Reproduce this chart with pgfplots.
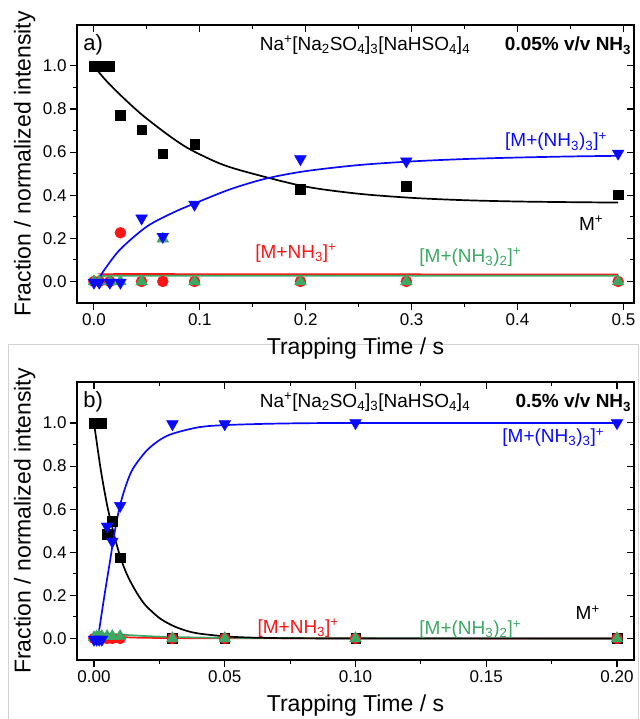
\documentclass[border=0pt]{standalone}
\usepackage{fontspec}
\setmainfont{Liberation Sans}
\usepackage{pgfplots}
\pgfplotsset{compat=1.18}

\definecolor{mgreen}{RGB}{60,168,100}
\definecolor{mred}{RGB}{250,20,20}
\definecolor{mblue}{RGB}{10,10,250}

\newcommand{\sub}[1]{\textsubscript{#1}}
\newcommand{\sups}[1]{\textsuperscript{#1}}

\tikzset{lab/.style={font=\fontsize{19}{19}\selectfont, inner sep=1pt}}

\pgfplotsset{
  panel/.style={
    scale only axis, width=557pt, height=278pt,
    axis line style={line width=1.3pt},
    every tick/.style={black, line width=1.1pt},
    major tick length=7pt, minor tick length=4pt,
    tick align=outside, xtick pos=bottom, ytick pos=left,
    ymin=-0.1, ymax=1.19, ytick={0,0.2,0.4,0.6,0.8,1.0}, minor y tick num=1,
    minor x tick num=1,
    /pgf/number format/assume math mode=true,
    tick label style={font=\fontsize{17}{17}\selectfont},
    yticklabel style={/pgf/number format/.cd, fixed, fixed zerofill, precision=1},
    label style={font=\fontsize{23}{23}\selectfont},
    xlabel style={at={(rel axis cs:0.5,0)}, anchor=center, yshift=-46pt},
    ylabel style={at={(rel axis cs:-0.094,0.5)}, anchor=center},
  },
  mirror/.style={
    scale only axis, width=557pt, height=278pt,
    axis line style={line width=1.3pt},
    every tick/.style={black, line width=1.1pt},
    major tick length=7pt, minor tick length=4pt,
    tick align=inside, xtick pos=top, ytick pos=right,
    ymin=-0.1, ymax=1.19, ytick={0,0.2,0.4,0.6,0.8,1.0}, minor y tick num=1,
    minor x tick num=1, xticklabels={}, yticklabels={},
  },
  fit/.style={line width=1.7pt, smooth, tension=0.5, no marks},
  sq/.style={only marks, mark=square*, mark size=4.8pt, black},
  ci/.style={only marks, mark=*, mark size=5.5pt, mred},
  gt/.style={only marks, mark=triangle*, mark size=6.8pt, mgreen},
  bt/.style={only marks, mark=triangle*, mark size=6.8pt, mblue, mark options={rotate=180}},
}

\begin{document}
\begin{tikzpicture}
\path[use as bounding box] (0,0) rectangle (639pt,-719pt);
\draw[gray!35, line width=0.8pt] (8pt,-719pt) -- (8pt,-344pt) -- (638.5pt,-344pt) -- (638.5pt,-719pt);

% ---------- panel a ----------
\begin{axis}[panel, at={(77pt,-25pt)}, anchor=north west,
  xmin=-0.016, xmax=0.51, xtick={0,0.1,0.2,0.3,0.4,0.5},
  xticklabel style={/pgf/number format/.cd, fixed, fixed zerofill, precision=1},
  xlabel={Trapping Time / s}, ylabel={Fraction / normalized intensity}]
% fits
\addplot[fit, mred] coordinates {(0,0) (0.008,0.03) (0.015,0.034) (0.1,0.034) (0.3,0.033) (0.495,0.032)};
\addplot[fit, mgreen] coordinates {(0,0) (0.008,0.022) (0.015,0.026) (0.1,0.026) (0.3,0.026) (0.495,0.026)};
\addplot[fit, black] coordinates {(0,1) (0.01,0.94) (0.025,0.865) (0.045,0.775) (0.07,0.68) (0.09,0.615)
  (0.12,0.545) (0.15,0.5) (0.2,0.44) (0.25,0.407) (0.3,0.388) (0.35,0.377) (0.4,0.371) (0.45,0.368) (0.495,0.366)};
\addplot[fit, mblue] coordinates {(0.003,0) (0.01,0.055) (0.025,0.15) (0.05,0.255) (0.075,0.32) (0.1,0.372)
  (0.13,0.43) (0.163,0.478) (0.2,0.512) (0.25,0.54) (0.3,0.557) (0.35,0.568) (0.4,0.575) (0.45,0.58) (0.495,0.583)};
% data
\addplot[sq] coordinates {(0,1) (0.005,1) (0.015,1) (0.025,0.771) (0.045,0.705) (0.065,0.593)
  (0.095,0.638) (0.195,0.427) (0.295,0.441) (0.495,0.403)};
\addplot[ci] coordinates {(0,0) (0.005,0) (0.015,0) (0.025,0.226) (0.045,0) (0.065,0)
  (0.095,0) (0.195,0) (0.295,0) (0.495,0)};
\addplot[gt] coordinates {(0,0) (0.005,0) (0.015,0) (0.025,0) (0.045,0) (0.065,0.198)
  (0.095,0) (0.195,0) (0.295,0) (0.495,0)};
\addplot[bt] coordinates {(0,-0.005) (0.005,-0.005) (0.015,-0.005) (0.025,-0.005) (0.045,0.293)
  (0.065,0.208) (0.095,0.357) (0.195,0.568) (0.295,0.558) (0.495,0.594)};
% labels
\node[anchor=west, font=\fontsize{22}{22}\selectfont] at (rel axis cs:0.005,0.928) {a)};
\node[lab] at (rel axis cs:0.517,0.928) {Na\sups{+}[Na\sub{2}SO\sub{4}]\sub{3}[NaHSO\sub{4}]\sub{4}};
\node[lab, anchor=east] at (rel axis cs:0.997,0.926) {\bfseries 0.05\% v/v NH\sub{3}};
\node[lab, mblue] at (rel axis cs:0.86,0.58) {[M+(NH\sub{3})\sub{3}]\sups{+}};
\node[lab] at (rel axis cs:0.923,0.287) {M\sups{+}};
\node[lab, mred] at (rel axis cs:0.393,0.179) {[M+NH\sub{3}]\sups{+}};
\node[lab, mgreen] at (rel axis cs:0.706,0.165) {[M+(NH\sub{3})\sub{2}]\sups{+}};
\end{axis}
\begin{axis}[mirror, at={(77pt,-25pt)}, anchor=north west,
  xmin=-0.016, xmax=0.51, xtick={0,0.1,0.2,0.3,0.4,0.5}]
\end{axis}

% ---------- panel b ----------
\begin{axis}[panel, at={(77pt,-382pt)}, anchor=north west,
  xmin=-0.0065, xmax=0.2065, xtick={0,0.05,0.1,0.15,0.2},
  xticklabel style={/pgf/number format/.cd, fixed, fixed zerofill, precision=2},
  xlabel={Trapping Time / s}, ylabel={Fraction / normalized intensity}]
\addplot[fit, mred] coordinates {(0,0) (0.002,0.012) (0.005,0.012) (0.01,0.007) (0.02,0.003) (0.05,0.001) (0.2,0)};
\addplot[fit, mgreen] coordinates {(0,0) (0.002,0.02) (0.005,0.022) (0.01,0.018) (0.02,0.011) (0.03,0.007)
  (0.05,0.003) (0.1,0.001) (0.2,0)};
\addplot[fit, black] coordinates {(0,1) (0.0025,0.79) (0.005,0.62) (0.0075,0.49) (0.01,0.38) (0.0125,0.30)
  (0.015,0.24) (0.0175,0.19) (0.02,0.15) (0.025,0.095) (0.03,0.06) (0.035,0.037) (0.04,0.023) (0.05,0.01)
  (0.06,0.004) (0.075,0.001) (0.1,0) (0.2,0)};
\addplot[fit, mblue] coordinates {(0.0015,0) (0.004,0.2) (0.006,0.35) (0.008,0.5) (0.01,0.62) (0.0125,0.72)
  (0.015,0.79) (0.02,0.87) (0.025,0.92) (0.03,0.95) (0.04,0.98) (0.05,0.99) (0.07,0.997) (0.1,1) (0.2,1)};
\addplot[sq] coordinates {(0,1) (0.001,1) (0.002,1) (0.003,1) (0.005,0.485) (0.007,0.545) (0.01,0.375)
  (0.03,0) (0.05,0) (0.1,0) (0.2,0)};
\addplot[ci] coordinates {(0,0) (0.001,0) (0.002,0) (0.003,0) (0.005,0) (0.007,0) (0.01,0)
  (0.03,0) (0.05,0) (0.1,0) (0.2,0)};
\addplot[gt] coordinates {(0,0.005) (0.001,0.008) (0.002,0.01) (0.003,0.01) (0.005,0.01) (0.007,0.01) (0.01,0.01)
  (0.03,0) (0.05,0) (0.1,0) (0.2,0)};
\addplot[bt] coordinates {(0,-0.005) (0.001,-0.005) (0.002,-0.005) (0.003,-0.005) (0.005,0.52) (0.007,0.45)
  (0.01,0.616) (0.03,0.995) (0.05,0.995) (0.1,1) (0.2,1)};
\node[anchor=west, font=\fontsize{22}{22}\selectfont] at (rel axis cs:0.005,0.928) {b)};
\node[lab] at (rel axis cs:0.517,0.928) {Na\sups{+}[Na\sub{2}SO\sub{4}]\sub{3}[NaHSO\sub{4}]\sub{4}};
\node[lab, anchor=east] at (rel axis cs:0.997,0.926) {\bfseries 0.5\% v/v NH\sub{3}};
\node[lab, mblue] at (rel axis cs:0.855,0.8) {[M+(NH\sub{3})\sub{3}]\sups{+}};
\node[lab] at (rel axis cs:0.917,0.17) {M\sups{+}};
\node[lab, mred] at (rel axis cs:0.397,0.115) {[M+NH\sub{3}]\sups{+}};
\node[lab, mgreen] at (rel axis cs:0.706,0.11) {[M+(NH\sub{3})\sub{2}]\sups{+}};
\end{axis}
\begin{axis}[mirror, at={(77pt,-382pt)}, anchor=north west,
  xmin=-0.0065, xmax=0.2065, xtick={0,0.05,0.1,0.15,0.2}]
\end{axis}
\end{tikzpicture}
\end{document}
